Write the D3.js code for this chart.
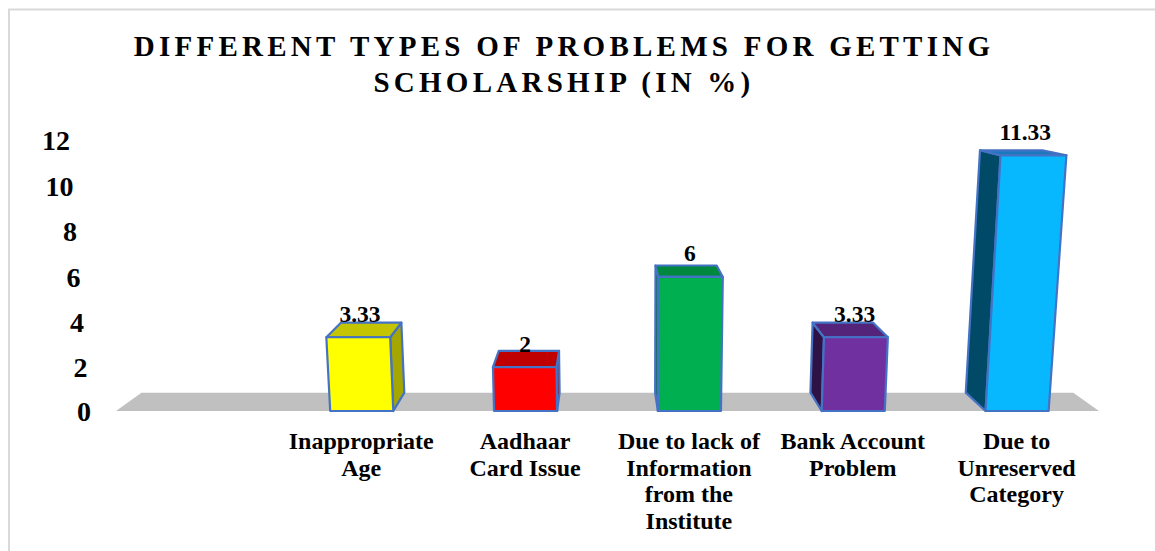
<!DOCTYPE html>
<html><head><meta charset="utf-8">
<script src="https://d3js.org/d3.v7.min.js"></script>
<style>
html,body{margin:0;padding:0;background:#fff}
svg{display:block}
text{font-family:"Liberation Serif","Times New Roman",serif;font-weight:bold;fill:#000}
</style></head><body>
<div id="chart"></div>
<script>
const titleLines = ["DIFFERENT TYPES OF PROBLEMS FOR GETTING", "SCHOLARSHIP (IN %)"];
const categories = ["", "Inappropriate Age", "Aadhaar Card Issue", "Due to lack of Information from the Institute", "Bank Account Problem", "Due to Unreserved Category"];
const categoryLines = [[], ["Inappropriate", "Age"], ["Aadhaar", "Card Issue"], ["Due to lack of", "Information", "from the", "Institute"], ["Bank Account", "Problem"], ["Due to", "Unreserved", "Category"]];
const values = [null, 3.33, 2, 6, 3.33, 11.33];
const tickValues = [0, 2, 4, 6, 8, 10, 12];
const frontColors = [null, "#FFFF00", "#FF0000", "#00B050", "#7030A0", "#08B8FF"];
const topColors = [null, "#C4C400", "#C00000", "#00893E", "#54237A", "#1A78BC"];
const sideColors = [null, "#A6A600", "#A00000", "#006E30", "#2E1245", "#004A68"];

const W = 1155, H = 551;
const svg = d3.select("#chart").append("svg").attr("width", W).attr("height", H);

const x = d3.scaleBand().domain(categories).range([116, 1099]).paddingInner(0.615).paddingOuter(0.3075);
// the slight non-linearity reproduces the chart's 3-D foreshortening
const y = d3.scalePow().exponent(1.015).domain([0, 12]).range([411, 140]);
// the value axis labels run along the slanted wall edge
const yLabelRight = d3.scaleLinear().domain([0, 12]).range([91, 70]);

// simple perspective: walls lean outward with height, depth recedes to a vanishing point
const flareX = 640, flare = 0.00017, vanishX = 605, vanishY = 58, depth = 0.052;
function lean(px, py, amount) {
  return flareX + (px - flareX) * (1 + flare * amount * (y(0) - py));
}
function project(px, py, d) {
  const fx = lean(px, py, 1);
  return [fx + (vanishX - fx) * depth * d, py + (vanishY - py) * depth * d];
}
const pathOf = pts => "M" + pts.map(p => p.join(",")).join("L") + "Z";

// frame
svg.append("path").attr("d", `M9,${H}V9.5H${W}`).attr("fill", "none").attr("stroke", "#d9d9d9").attr("stroke-width", 2);

// floor
svg.append("path")
  .attr("d", pathOf([[116, y(0)], [1099, y(0)], project(1099, y(0), 1), project(116, y(0), 1)]))
  .attr("fill", "#C0C0C0");

// bars
const barData = categories.map((c, i) => ({ c, v: values[i], i })).filter(d => d.v !== null);
const bars = svg.selectAll("g.bar").data(barData).join("g").attr("class", "bar")
  .attr("stroke", "#4472C4").attr("stroke-width", 2.2).attr("stroke-linejoin", "round");
bars.each(function (d) {
  const g = d3.select(this);
  const l = x(d.c), r = l + x.bandwidth(), b = y(0), t = y(d.v);
  const sideX = r < vanishX ? r : l;
  g.append("path").attr("fill", sideColors[d.i])
    .attr("d", pathOf([project(sideX, b, 0), project(sideX, t, 0), project(sideX, t, 1), project(sideX, b, 1)]));
  g.append("path").attr("fill", topColors[d.i])
    .attr("d", pathOf([project(l, t, 0), project(r, t, 0), project(r, t, 1), project(l, t, 1)]));
  g.append("path").attr("fill", frontColors[d.i])
    .attr("d", pathOf([project(l, b, 0), project(r, b, 0), project(r, t, 0), project(l, t, 0)]));
});

// value labels
svg.selectAll("text.value").data(barData).join("text").attr("class", "value")
  .attr("text-anchor", "middle").attr("font-size", 23.5)
  .attr("x", d => lean(x(d.c) + x.bandwidth() / 2, y(d.v), 0.5))
  .attr("y", d => y(d.v) - 15.5)
  .text(d => String(d.v));

// y axis labels
svg.selectAll("text.tick").data(tickValues).join("text").attr("class", "tick")
  .attr("text-anchor", "end").attr("font-size", 28)
  .attr("x", d => yLabelRight(d)).attr("y", d => y(d) + 10)
  .text(d => d);

// category labels
svg.selectAll("text.cat").data(barData).join("text").attr("class", "cat")
  .attr("text-anchor", "middle").attr("font-size", 24)
  .attr("y", 449)
  .each(function (d) {
    d3.select(this).selectAll("tspan").data(categoryLines[d.i]).join("tspan")
      .attr("x", x(d.c) + x.bandwidth() / 2 - 0.5)
      .attr("dy", (_, i) => i ? 26.7 : 0)
      .text(t => t);
  });

// title
svg.selectAll("text.title").data(titleLines).join("text").attr("class", "title")
  .attr("text-anchor", "middle").attr("font-size", 29).attr("letter-spacing", 4.25)
  .attr("x", 564).attr("y", (d, i) => 56 + i * 36)
  .text(d => d);
</script>
</body></html>
